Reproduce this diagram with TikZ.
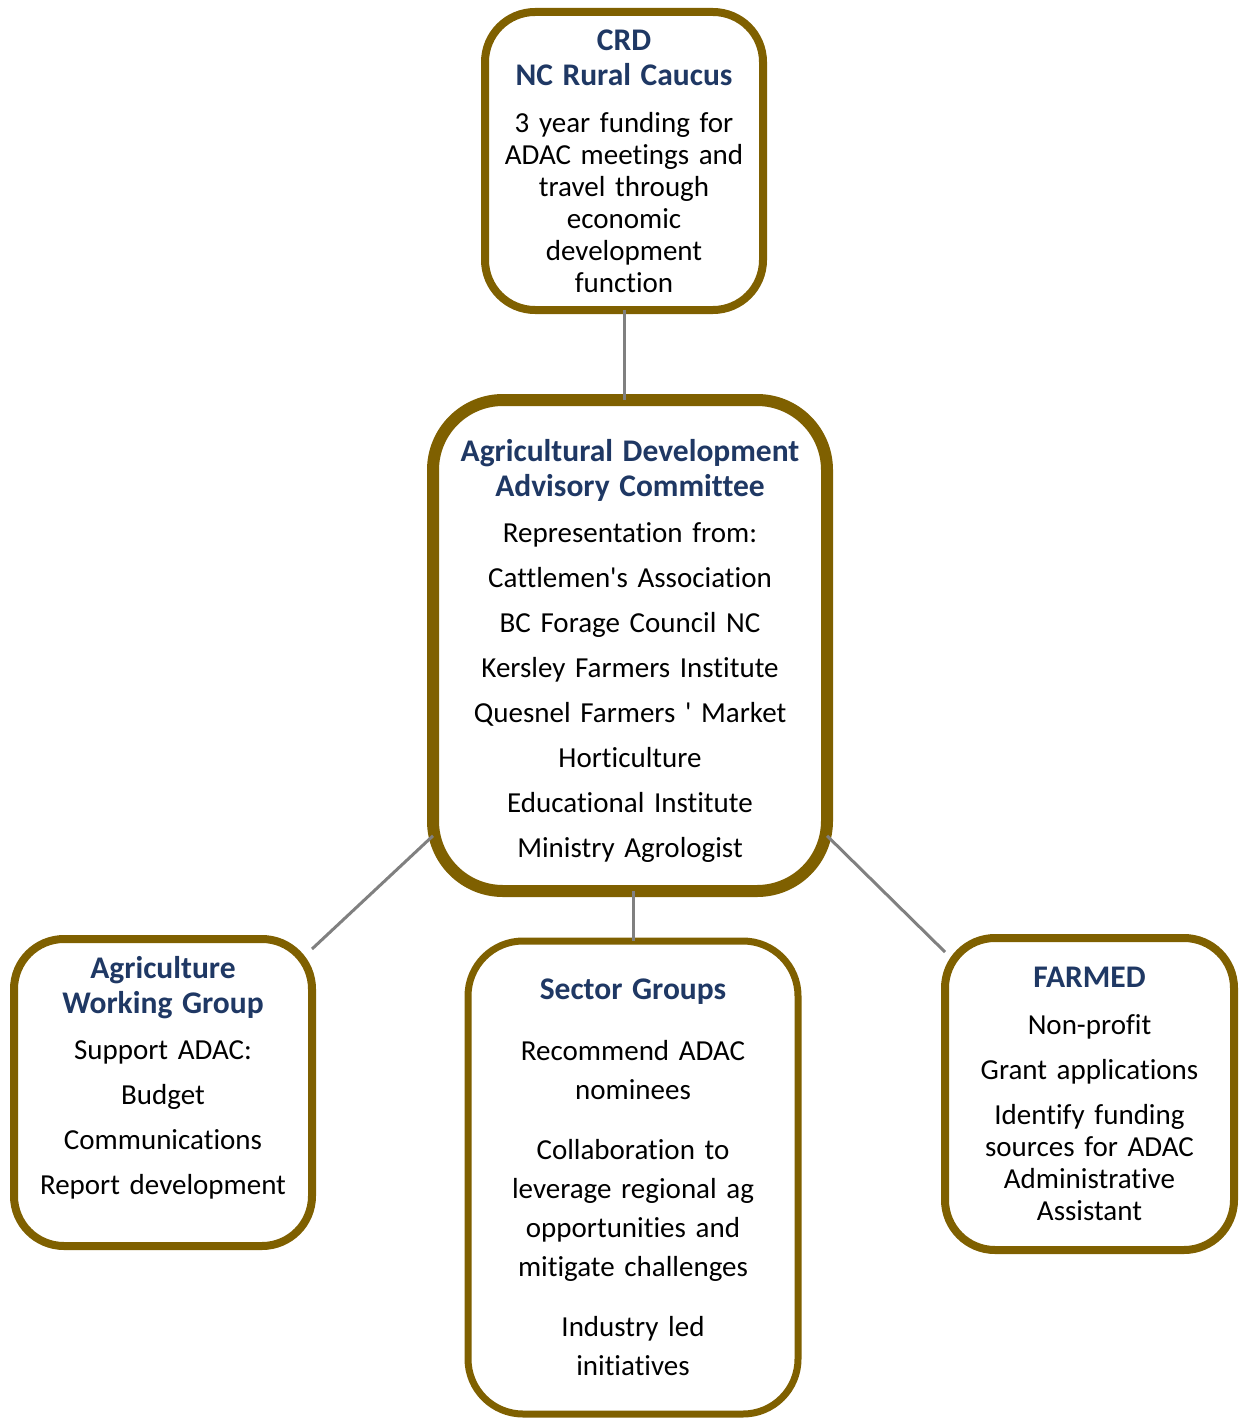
\documentclass[tikz,border=0pt]{standalone}
\usepackage{fontspec}
\setmainfont{Carlito}[Ligatures={NoCommon}]
\definecolor{boxgold}{HTML}{7F6000}
\definecolor{titleblue}{HTML}{1F3864}
\definecolor{linkgray}{HTML}{808080}
\newcommand{\bodyfont}{\fontsize{29}{32}\selectfont}
\newcommand{\boxtitle}{\fontsize{31.5}{35}\selectfont\bfseries\color{titleblue}}

\begin{document}
\begin{tikzpicture}
  [x=1pt,y=-1pt,
   orgbox/.style={draw=boxgold,line width=8pt,rounded corners=50pt,fill=white,
     align=center,inner sep=0pt,outer sep=0pt,font=\bodyfont},
   link/.style={draw=linkgray,line width=3pt}]
  \useasboundingbox (0,0) rectangle (1239,1418);
  \node[orgbox,text width=278pt,minimum height=298pt] (crd) at (624,161)
    {{\boxtitle CRD\\NC Rural Caucus\par}\vspace{15pt}
     3 year funding for\\ADAC meetings and\\travel through\\economic\\development\\function};
  \node[orgbox,line width=12pt,rounded corners=70pt,text width=394pt,minimum height=491pt] (adac) at (630,645.5)
    {{\boxtitle Agricultural Development\\Advisory Committee\par}\vspace{14pt}
     Representation from:\\[13pt]Cattlemen\textquotesingle s Association\\[13pt]BC Forage Council NC\\[13pt]Kersley Farmers Institute\\[13pt]
     Quesnel Farmers \textquotesingle\ Market\\[13pt]Horticulture\\[13pt]Educational Institute\\[13pt]Ministry Agrologist\par\kern-10pt};
  \node[orgbox,text width=298pt,minimum height=307pt] (awg) at (163,1092.5)
    {{\boxtitle Agriculture\\Working Group\par}\vspace{14pt}
     Support ADAC:\\[13pt]Budget\\[13pt]Communications\\[13pt]Report development\par\kern30pt};
  \node[orgbox,line width=7pt,rounded corners=55pt,text width=330pt,minimum height=473pt] (sector) at (633,1177.5)
    {{\boxtitle Sector Groups\par}\vspace{29pt}
     Recommend ADAC\\[7pt]nominees\\[28pt]Collaboration to\\[7pt]leverage regional ag\\[7pt]
     opportunities and\\[7pt]mitigate challenges\\[28pt]Industry led\\[7pt]initiatives};
  \node[orgbox,text width=289pt,minimum height=312pt] (farmed) at (1089.5,1094)
    {{\boxtitle FARMED\par}\vspace{15pt}
     Non-profit\\[13pt]Grant applications\\[13pt]Identify funding\\sources for ADAC\\Administrative\\Assistant};
  \draw[link] (crd.south) -- (crd.south |- adac.north);
  \draw[link] (adac.224) -- ([yshift=-10pt]awg.north east);
  \draw[link] (sector.north |- adac.south) -- (sector.north);
  \draw[link] (adac.-44.6) -- ([yshift=-14pt]farmed.north west);
\end{tikzpicture}
\end{document}
